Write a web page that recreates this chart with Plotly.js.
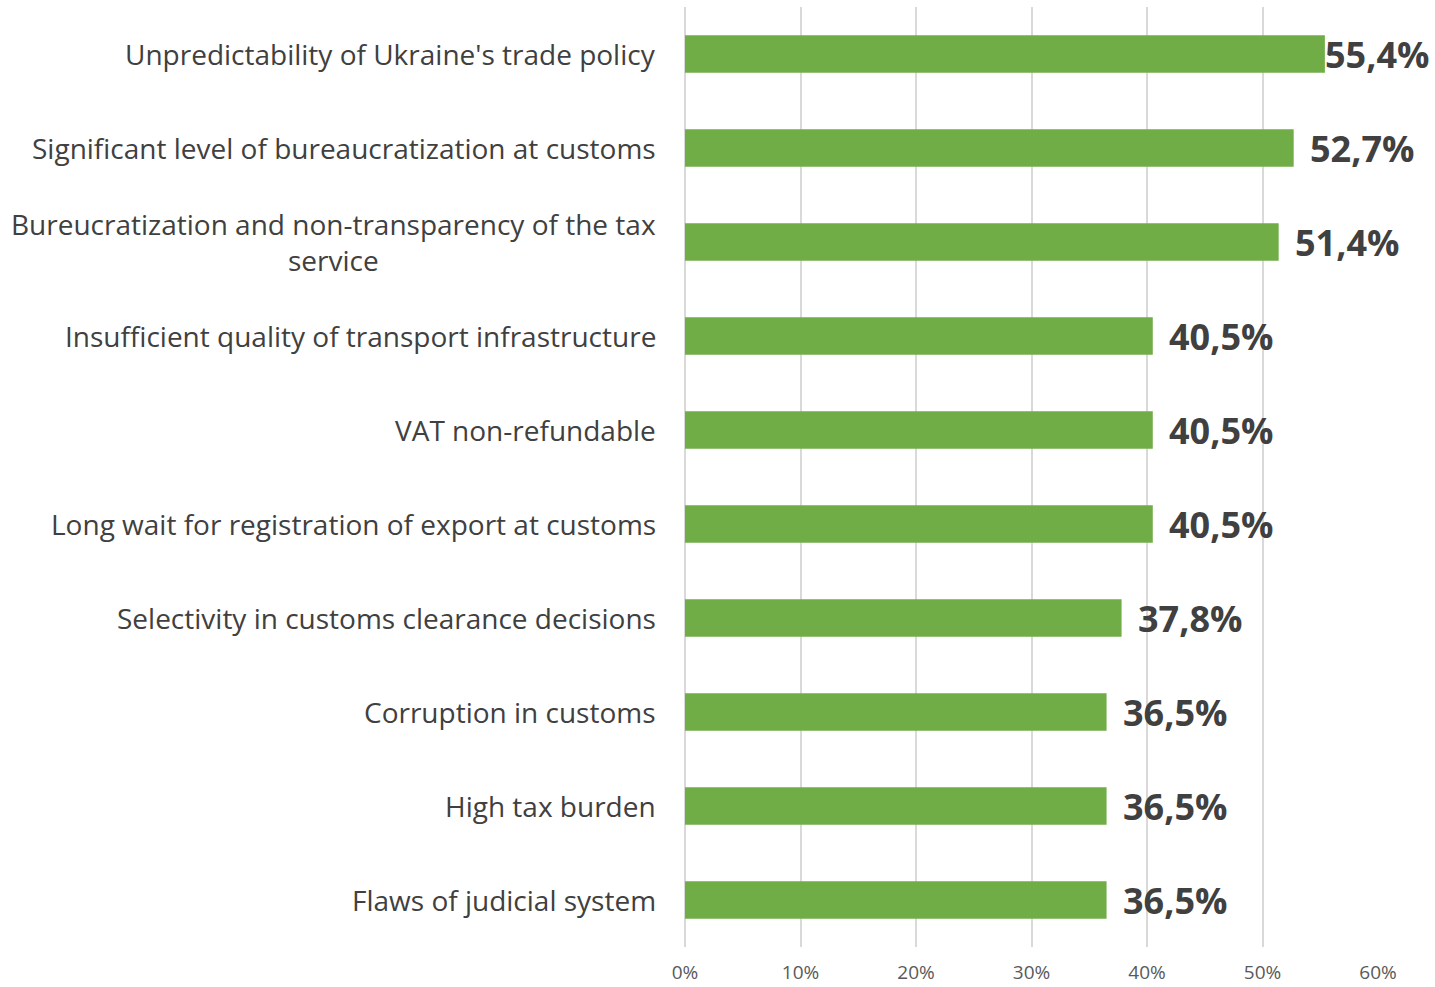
<!DOCTYPE html>
<html>
<head>
<meta charset="utf-8">
<script src="https://cdn.plot.ly/plotly-3.0.1.min.js"></script>
<style>
  html, body { margin: 0; padding: 0; background: #fff; }
  #chart { width: 1435px; height: 987px; }
</style>
</head>
<body>
<div id="chart"></div>
<script>
// categories, top to bottom as in the picture
const categories = [
    "Unpredictability of Ukraine's trade policy",
    'Significant level of bureaucratization at customs',
    'Bureucratization and non-transparency of the tax<br>service',
    'Insufficient quality of transport infrastructure',
    'VAT non-refundable',
    'Long wait for registration of export at customs',
    'Selectivity in customs clearance decisions',
    'Corruption in customs',
    'High tax burden',
    'Flaws of judicial system'
];
const shares = [55.4, 52.7, 51.4, 40.5, 40.5, 40.5, 37.8, 36.5, 36.5, 36.5];
const tickVals = [0, 10, 20, 30, 40, 50, 60];
const tickText = ['0%', '10%', '20%', '30%', '40%', '50%', '60%'];

const labelFont = 'Open Sans, Noto Sans, sans-serif';

const trace = {
    type: 'bar',
    orientation: 'h',
    x: shares,
    y: categories,
    marker: { color: '#70AD47' },
    hoverinfo: 'x+y'
};

// category names on the left, centred lines like the original
const catNotes = categories.map(c => ({
    xref: 'paper', yref: 'y',
    x: 0, y: c,
    xanchor: 'right', yanchor: 'middle',
    xshift: -27,
    text: c,
    align: 'center',
    showarrow: false,
    font: { family: labelFont, size: 28, color: '#404040' }
}));

// value labels, bold with decimal comma
const valueNotes = shares.map((v, i) => ({
    xref: 'x', yref: 'y',
    x: v, y: categories[i],
    xanchor: 'left', yanchor: 'middle',
    xshift: i === 0 ? -2 : 14,
    text: '<b>' + v.toFixed(1).replace('.', ',') + '%</b>',
    showarrow: false,
    font: { family: labelFont, size: 36, color: '#404040' }
}));

const layout = {
    width: 1435,
    height: 987,
    margin: { l: 685, r: 57, t: 7, b: 40 },
    paper_bgcolor: '#fff',
    plot_bgcolor: '#fff',
    bargap: 0.6,
    showlegend: false,
    xaxis: {
        range: [0, 60],
        tickvals: tickVals,
        ticktext: tickText,
        showgrid: true,
        gridcolor: '#D9D9D9',
        gridwidth: 2,
        zeroline: true,
        zerolinecolor: '#D9D9D9',
        zerolinewidth: 2,
        showline: false,
        ticks: '',
        ticklabelstandoff: 12,
        tickfont: { family: labelFont, size: 19, color: '#595959' },
        fixedrange: true
    },
    yaxis: {
        autorange: 'reversed',
        showticklabels: false,
        showgrid: false,
        zeroline: false,
        showline: false,
        ticks: '',
        fixedrange: true
    },
    annotations: catNotes.concat(valueNotes)
};

Plotly.newPlot('chart', [trace], layout, { displayModeBar: false, staticPlot: true });
</script>
</body>
</html>
